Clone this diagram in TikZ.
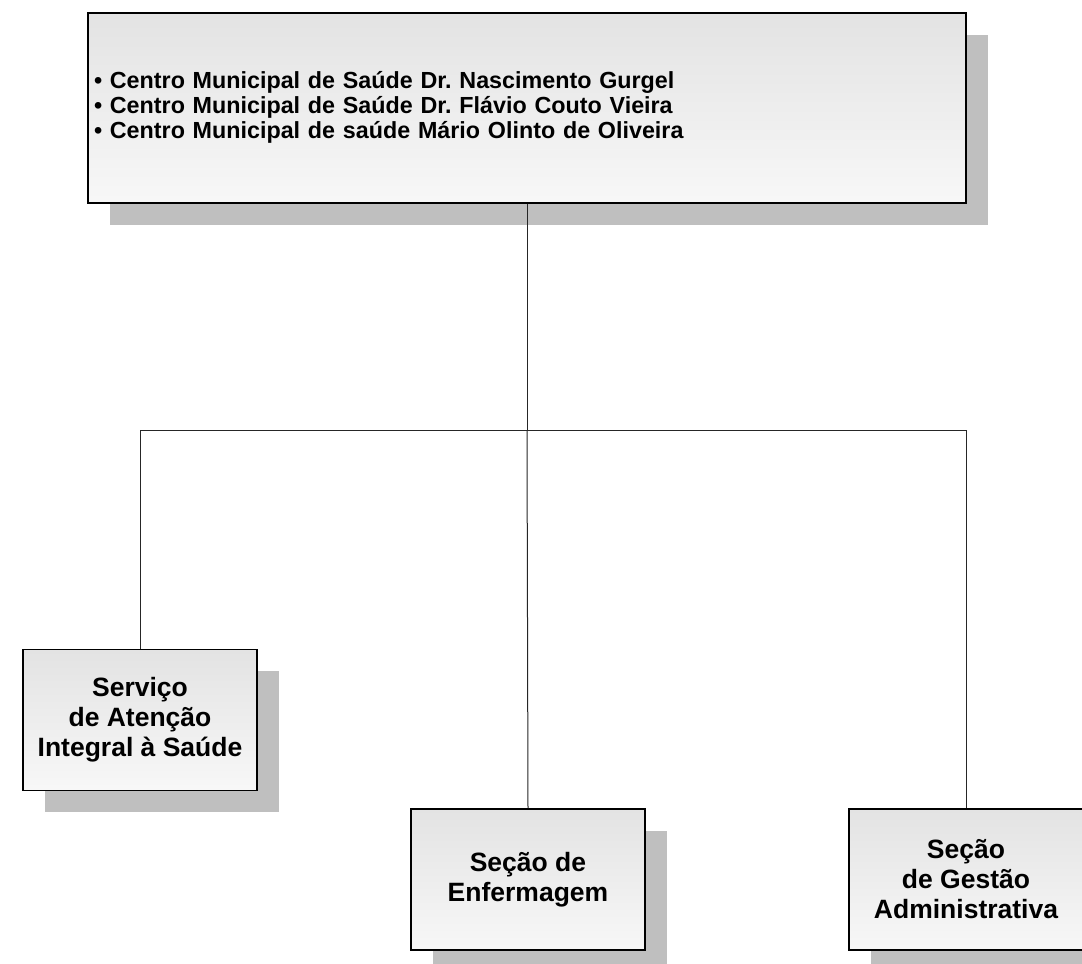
\documentclass[tikz,border=0pt]{standalone}
\usepackage{fontspec}
\setmainfont{Liberation Sans}
\usetikzlibrary{shadows}
\frenchspacing

\tikzset{
  unitbox/.style={draw=black,line width=1.5pt,top color=black!11,bottom color=black!3,
    drop shadow={shadow xshift=22pt,shadow yshift=-22pt,fill=black!25,opacity=1},
    inner sep=0pt,align=center,minimum width=234pt,minimum height=141pt,
    font=\bfseries\fontsize{26.5}{30}\selectfont},
  link/.style={black!85,line width=1pt}
}

\begin{document}
\begin{tikzpicture}[x=1pt,y=1pt]
  \useasboundingbox (0,0) rectangle (1082,964);
  % centros de saude
  \node[unitbox,minimum width=878pt,minimum height=190pt,align=left,text width=866pt,
        font=\bfseries\fontsize{23.3}{25}\selectfont] (centros) at (527,856)
    {• Centro Municipal de Saúde Dr. Nascimento Gurgel\\
     • Centro Municipal de Saúde Dr. Flávio Couto Vieira\\
     • Centro Municipal de saúde Mário Olinto de Oliveira\\[-18pt]\mbox{}};
  % secoes
  \node[unitbox] (servico) at (140,244) {Serviço\\ de Atenção\\Integral à Saúde};
  \node[unitbox] (enferm) at (528,84.5) {Seção de\\Enfermagem};
  \node[unitbox] (gestao) at (966,84.5) {Seção\\ de Gestão\\Administrativa};
  \coordinate (bus) at (centros.south |- 0,533);
  \draw[link] (centros.south) -- (bus);
  \draw[link] (servico.north) |- (gestao.north |- bus) -- (gestao.north);
  \draw[link] (bus) -- (enferm.north);
\end{tikzpicture}
\end{document}
